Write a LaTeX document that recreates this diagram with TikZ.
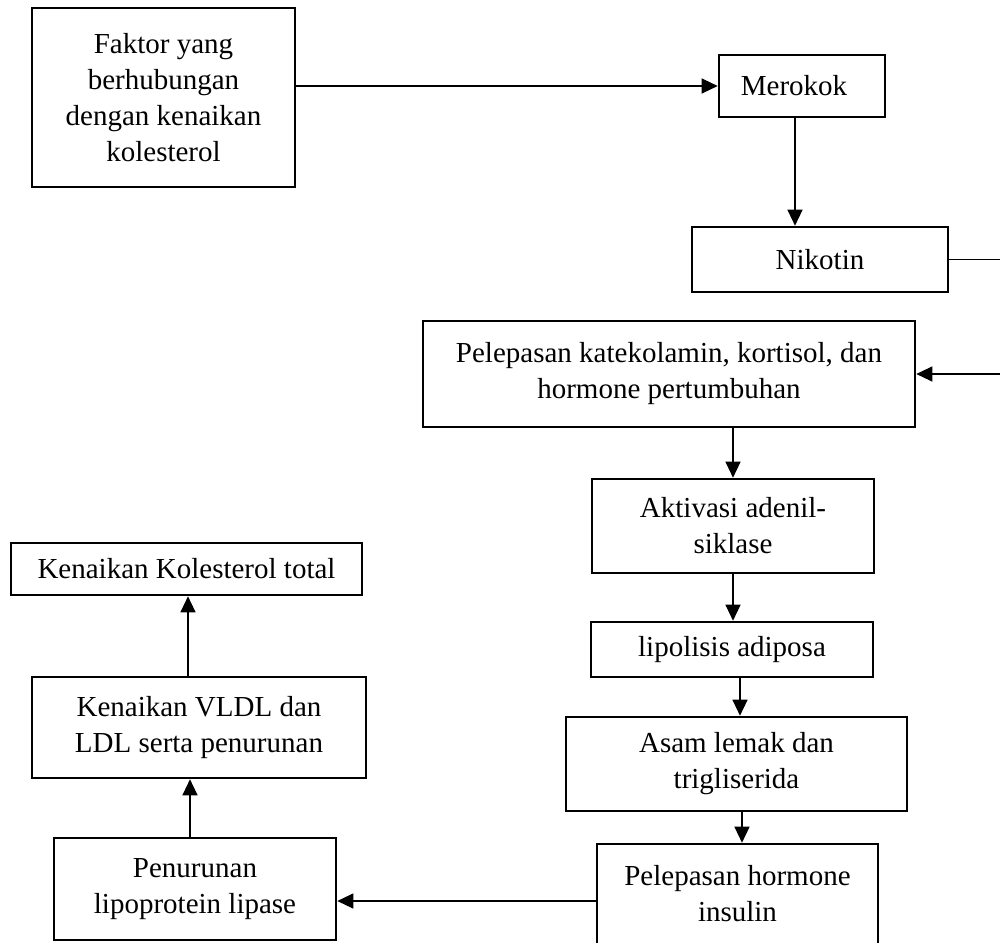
\documentclass[tikz,border=0pt]{standalone}
\usepackage{fontspec}
\setmainfont{Liberation Serif}
\usetikzlibrary{arrows.meta}
\begin{document}
\begin{tikzpicture}[x=1pt,y=-1pt,
  box/.style={draw=black,line width=2.6pt,align=center,inner sep=0pt,
    font=\fontsize{29pt}{36pt}\selectfont},
  conn/.style={line width=1.2pt},
  arr/.style={conn,-{Triangle[length=16pt,width=15pt]}}]
\useasboundingbox (0,0) rectangle (1000,942);
\clip (0,0) rectangle (1000,942);
\fill[white] (0,0) rectangle (1000,942);

\node[box,minimum width=263pt,minimum height=179pt] (faktor) at (163.5,97.5)
  {Faktor yang\\berhubungan\\dengan kenaikan\\kolesterol};
\node[box,minimum width=166pt,minimum height=62pt] (merokok) at (802,86)
  {Merokok\hspace{16pt}};
\node[box,minimum width=256pt,minimum height=65pt] (nikotin) at (820,259.5)
  {Nikotin};
\node[box,minimum width=492pt,minimum height=106pt] (pel) at (669,374)
  {Pelepasan katekolamin, kortisol, dan\\hormone pertumbuhan};
\node[box,minimum width=282pt,minimum height=94pt] (akt) at (733,526)
  {Aktivasi adenil-\\siklase};
\node[box,minimum width=282pt,minimum height=55pt] (lip) at (732,649.5)
  {lipolisis adiposa};
\node[box,minimum width=341pt,minimum height=94pt] (asam) at (736.5,764)
  {Asam lemak dan\\trigliserida};
\node[box,minimum width=281pt,minimum height=114pt] (ins) at (737.5,901)
  {Pelepasan hormone\\insulin\\[-20pt]\mbox{}};
\node[box,minimum width=282pt,minimum height=102pt] (pen) at (195,889)
  {Penurunan\\lipoprotein lipase};
\node[box,minimum width=334pt,minimum height=101pt] (vldl) at (199,727.5)
  {Kenaikan VLDL dan\\LDL serta penurunan};
\node[box,minimum width=351pt,minimum height=52pt] (kol) at (186.5,569)
  {Kenaikan Kolesterol total};

\draw[arr] (faktor.east |- merokok.west) -- (merokok.west);
\draw[arr] ([xshift=-7pt]merokok.south) -- ([xshift=-7pt]merokok.south |- nikotin.north);
\draw[arr] (nikotin.east) -- ++(70,0) |- (pel.east);
\draw[arr] (pel.south -| akt.north) -- (akt.north);
\draw[arr] (akt.south) -- (akt.south |- lip.north);
\draw[arr] ([xshift=8pt]lip.south) -- ([xshift=8pt]lip.south |- asam.north);
\draw[arr] ([xshift=5.5pt]asam.south) -- ([xshift=5.5pt]asam.south |- ins.north);
\draw[arr] (ins.west) -- (ins.west -| pen.east);
\draw[arr] ([xshift=-5pt]pen.north) -- ([xshift=-5pt]pen.north |- vldl.south);
\draw[arr] ([xshift=-11pt]vldl.north) -- ([xshift=-11pt]vldl.north |- kol.south);
\end{tikzpicture}
\end{document}
